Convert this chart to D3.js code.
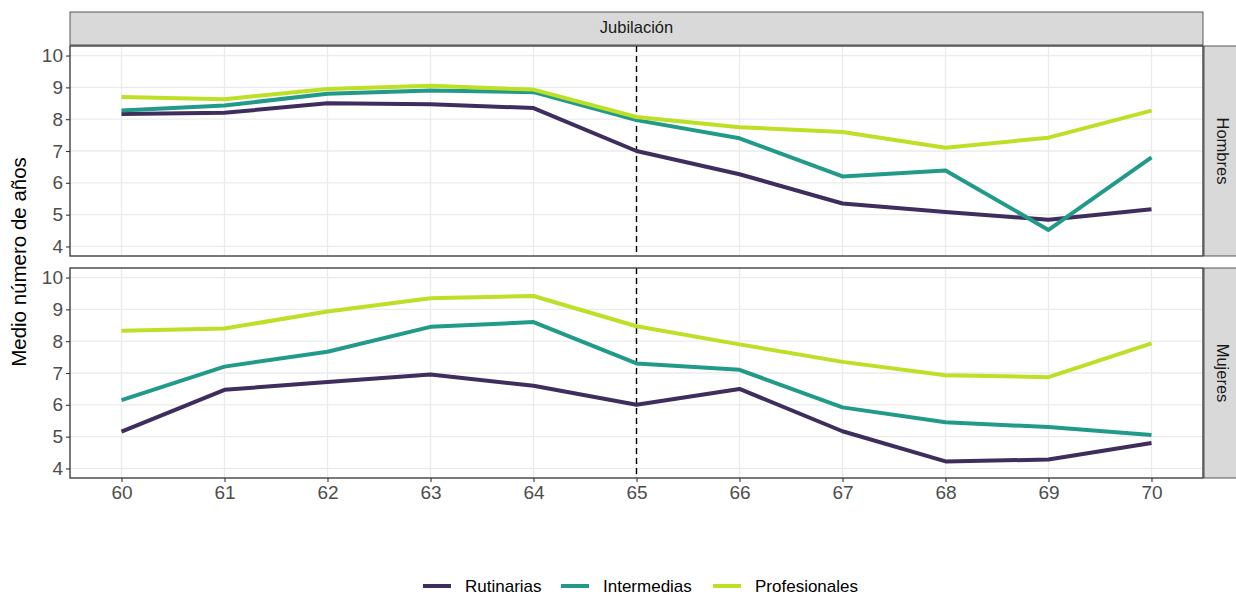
<!DOCTYPE html>
<html><head><meta charset="utf-8">
<script src="https://cdn.jsdelivr.net/npm/d3@7"></script>
<style>body{margin:0;background:#fff;} text{font-family:"Liberation Sans",Arial,sans-serif;}</style>
</head><body><svg id="c" width="1236" height="595"></svg>
<script>
const ages = [60,61,62,63,64,65,66,67,68,69,70];
const yTicks = [4,5,6,7,8,9,10];
const groups = ["Rutinarias","Intermedias","Profesionales"];
const colors = ["#3e2d5d","#229a8a","#bddf26"];
const panels = ["Hombres","Mujeres"];
const hombresRutinarias    = [8.16,8.20,8.50,8.47,8.35,7.00,6.27,5.35,5.08,4.84,5.17];
const hombresIntermedias   = [8.27,8.43,8.80,8.90,8.85,7.97,7.40,6.20,6.39,4.52,6.80];
const hombresProfesionales = [8.70,8.63,8.95,9.05,8.93,8.07,7.75,7.60,7.10,7.42,8.27];
const mujeresRutinarias    = [5.16,6.47,6.72,6.95,6.60,6.00,6.50,5.17,4.22,4.28,4.80];
const mujeresIntermedias   = [6.15,7.20,7.67,8.45,8.60,7.30,7.10,5.92,5.45,5.30,5.05];
const mujeresProfesionales = [8.33,8.40,8.93,9.35,9.42,8.47,7.90,7.35,6.93,6.87,7.93];
const stripTitle = "Jubilación";
const yTitle = "Medio número de años";
const retirementAge = 65;

const data = {
  Hombres: [hombresRutinarias, hombresIntermedias, hombresProfesionales],
  Mujeres: [mujeresRutinarias, mujeresIntermedias, mujeresProfesionales]
};

const svg = d3.select("#c");
const L = 70, R = 1203;
const panelTops = [46, 268], panelH = 210;
const x = d3.scaleLinear().domain([59.5,70.5]).range([L,R]);
const FONT = "Liberation Sans, Arial, sans-serif";

svg.append("rect").attr("x",L).attr("y",12).attr("width",R-L).attr("height",33)
  .attr("fill","#d9d9d9").attr("stroke","#333").attr("stroke-width",0.8);
svg.append("text").attr("x",(L+R)/2).attr("y",29).attr("text-anchor","middle")
  .attr("dominant-baseline","middle").attr("font-size",16.5).attr("fill","#1a1a1a").text(stripTitle);

panels.forEach((p,i)=>{
  const top = panelTops[i];
  const y = d3.scaleLinear().domain([3.7,10.3]).range([top+panelH, top]);
  const g = svg.append("g");
  g.selectAll(".hg").data(yTicks).enter().append("line")
    .attr("x1",L).attr("x2",R).attr("y1",d=>y(d)).attr("y2",d=>y(d))
    .attr("stroke","#ebebeb").attr("stroke-width",1.3);
  g.selectAll(".vg").data(ages).enter().append("line")
    .attr("y1",top).attr("y2",top+panelH).attr("x1",d=>x(d)).attr("x2",d=>x(d))
    .attr("stroke","#ebebeb").attr("stroke-width",1.3);
  g.append("line").attr("x1",x(retirementAge)).attr("x2",x(retirementAge))
    .attr("y1",top).attr("y2",top+panelH).attr("stroke","#000").attr("stroke-width",1.4)
    .attr("stroke-dasharray","6,4");
  const line = d3.line().x((d,j)=>x(ages[j])).y(d=>y(d));
  data[p].forEach((vals,k)=>{
    g.append("path").datum(vals).attr("d",line).attr("fill","none")
      .attr("stroke",colors[k]).attr("stroke-width",4).attr("stroke-linejoin","round");
  });
  g.append("rect").attr("x",L).attr("y",top).attr("width",R-L).attr("height",panelH)
    .attr("fill","none").attr("stroke","#333").attr("stroke-width",1.3);
  const ya = svg.append("g").attr("transform",`translate(${L},0)`)
    .call(d3.axisLeft(y).tickValues(yTicks).tickSize(4).tickPadding(3).tickFormat(d3.format("d")));
  ya.select(".domain").remove();
  ya.selectAll("line").attr("stroke","#333").attr("stroke-width",1.1);
  ya.selectAll("text").attr("font-size",19).attr("fill","#4d4d4d").attr("font-family",FONT);
  svg.append("rect").attr("x",R+1).attr("y",top).attr("width",40).attr("height",panelH)
    .attr("fill","#d9d9d9").attr("stroke","#333").attr("stroke-width",0.8);
  svg.append("text").attr("transform",`translate(${R+18},${top+panelH/2}) rotate(90)`)
    .attr("text-anchor","middle").attr("dominant-baseline","middle")
    .attr("font-size",16.5).attr("fill","#1a1a1a").text(p);
});

const xa = svg.append("g").attr("transform",`translate(0,${panelTops[1]+panelH})`)
  .call(d3.axisBottom(x).tickValues(ages).tickSize(4).tickPadding(4).tickFormat(d3.format("d")));
xa.select(".domain").remove();
xa.selectAll("line").attr("stroke","#333").attr("stroke-width",1.1);
xa.selectAll("text").attr("font-size",19).attr("fill","#4d4d4d").attr("font-family",FONT);

svg.append("text").attr("transform",`translate(26,${(panelTops[0]+panelTops[1]+panelH)/2}) rotate(-90)`)
  .attr("text-anchor","middle").attr("font-size",20.5).attr("fill","#000").text(yTitle);

const legX = [423, 561, 713];
const leg = svg.append("g");
groups.forEach((gname,k)=>{
  leg.append("line").attr("x1",legX[k]).attr("x2",legX[k]+28).attr("y1",586).attr("y2",586)
    .attr("stroke",colors[k]).attr("stroke-width",4);
  leg.append("text").attr("x",legX[k]+42).attr("y",592).attr("font-size",17)
    .attr("fill","#000").text(gname);
});
</script></body></html>
